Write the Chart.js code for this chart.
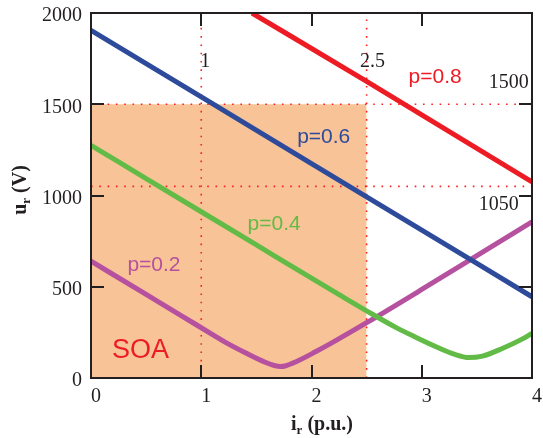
<!DOCTYPE html>
<html>
<head>
<meta charset="utf-8">
<script src="https://cdn.jsdelivr.net/npm/chart.js@4.4.1/dist/chart.umd.min.js"></script>
<style>
  html, body { margin: 0; padding: 0; background: #fff; }
  #wrap { width: 543px; height: 438px; }
</style>
</head>
<body>
<div id="wrap"><canvas id="graficaSOA" width="543" height="438"></canvas></div>
<script>
// curvas u_r (V) frente a i_r (p.u.) para cada p
const xP02 = [0, 0.5, 0.81, 1.11, 1.22, 1.4, 1.58, 1.67, 1.72, 1.76, 1.855, 2.04, 2.2, 2.5, 3, 3.5, 4];
const uP02 = [640, 458, 345, 235, 195, 138, 86, 67, 63, 66, 88, 145, 198, 303, 485, 670, 856];
const xP04 = [0, 0.5, 1, 1.5, 2, 2.25, 2.5, 2.76, 2.94, 3.12, 3.3, 3.425, 3.55, 3.73, 3.91, 4];
const uP04 = [1275, 1093, 911, 729, 547, 457, 368, 279, 225, 174, 129, 112, 120, 162, 213, 245];
const xP06 = [0, 1, 2, 3, 4];
const uP06 = [1905, 1540, 1175, 810, 445];
const xP08 = [1.46, 2.5, 4];
const uP08 = [2000, 1625, 1075];

// limites de la zona SOA
const limI = [1, 2.5];
const limU = [1050, 1500];

const xTicks = [0, 1, 2, 3, 4];
const yTicks = [0, 500, 1000, 1500, 2000];

const negro = '#231F20';
const serif = '"Liberation Serif", "Times New Roman", serif';
const sans = '"Liberation Sans", Arial, sans-serif';

function puntos(xs, ys) {
  return xs.map((x, i) => ({ x: x, y: ys[i] }));
}

function curva(label, xs, ys, color) {
  return {
    label: label,
    data: puntos(xs, ys),
    borderColor: color,
    borderWidth: 5,
    pointRadius: 0,
    cubicInterpolationMode: 'monotone',
    fill: false,
    order: 0
  };
}

function punteada(pts) {
  return {
    data: pts,
    borderColor: '#FF1F1F',
    borderWidth: 1.6,
    borderDash: [1.6, 6.7],
    borderCapStyle: 'butt',
    pointRadius: 0,
    tension: 0,
    fill: false,
    order: 1
  };
}

// textos sobre el grafico (coordenadas en datos)
const etiquetas = [
  { t: 'p=0.8', x: 2.88, y: 1616, font: '21px ' + sans, color: '#ED1C24', align: 'left' },
  { t: 'p=0.6', x: 1.87, y: 1287, font: '21px ' + sans, color: '#2E4B9B', align: 'left' },
  { t: 'p=0.4', x: 1.42, y: 810, font: '21px ' + sans, color: '#63BB47', align: 'left' },
  { t: 'p=0.2', x: 0.33, y: 586, font: '21px ' + sans, color: '#B5519F', align: 'left' },
  { t: 'SOA', x: 0.19, y: 108, font: '27px ' + sans, color: '#ED1C24', align: 'left' },
  { t: '1', x: 0.99, y: 1703, font: '20px ' + serif, color: negro, align: 'left' },
  { t: '2.5', x: 2.44, y: 1703, font: '20px ' + serif, color: negro, align: 'left' },
  { t: '1500', x: 3.97, y: 1588, font: '20px ' + serif, color: negro, align: 'right' },
  { t: '1050', x: 3.88, y: 920, font: '20px ' + serif, color: negro, align: 'right' }
];

function tituloEje(ctx, partes, cx, cy, angulo) {
  ctx.save();
  ctx.translate(cx, cy);
  ctx.rotate(angulo);
  let total = 0;
  partes.forEach(p => { ctx.font = p.font; total += ctx.measureText(p.t).width; });
  let x = -total / 2;
  ctx.textAlign = 'left';
  ctx.textBaseline = 'alphabetic';
  ctx.fillStyle = negro;
  partes.forEach(p => {
    ctx.font = p.font;
    ctx.fillText(p.t, x, p.dy);
    x += ctx.measureText(p.t).width;
  });
  ctx.restore();
}

const marcoYTextos = {
  id: 'marcoYTextos',
  afterDatasetsDraw(chart) {
    const ctx = chart.ctx;
    const a = chart.chartArea;
    const sx = chart.scales.x, sy = chart.scales.y;
    ctx.save();
    // marcas hacia dentro
    ctx.strokeStyle = negro;
    ctx.lineWidth = 2;
    ctx.beginPath();
    xTicks.forEach(v => {
      const px = Math.round(sx.getPixelForValue(v));
      ctx.moveTo(px, a.bottom); ctx.lineTo(px, a.bottom - 13);
      ctx.moveTo(px, a.top); ctx.lineTo(px, a.top + 13);
    });
    yTicks.forEach(v => {
      const py = Math.round(sy.getPixelForValue(v));
      ctx.moveTo(a.left, py); ctx.lineTo(a.left + 13, py);
      ctx.moveTo(a.right, py); ctx.lineTo(a.right - 13, py);
    });
    ctx.stroke();
    ctx.strokeRect(a.left, a.top, a.right - a.left, a.bottom - a.top);

    etiquetas.forEach(e => {
      ctx.font = e.font;
      ctx.fillStyle = e.color;
      ctx.textAlign = e.align;
      ctx.textBaseline = 'alphabetic';
      ctx.fillText(e.t, sx.getPixelForValue(e.x), sy.getPixelForValue(e.y));
    });
    ctx.restore();
  },
  afterDraw(chart) {
    const ctx = chart.ctx;
    const grande = 'bold 20px ' + serif;
    const chico = 'bold 13px ' + serif;
    tituloEje(ctx, [
      { t: 'i', font: grande, dy: 0 },
      { t: 'r', font: chico, dy: 4 },
      { t: ' (p.u.)', font: grande, dy: 0 }
    ], 322, 430, 0);
    tituloEje(ctx, [
      { t: 'u', font: grande, dy: 0 },
      { t: 'r', font: chico, dy: 4 },
      { t: ' (V)', font: grande, dy: 0 }
    ], 26, 190, -Math.PI / 2);
  }
};

function crearGraficoSOA() {
  const ctx = document.getElementById('graficaSOA').getContext('2d');
  return new Chart(ctx, {
    type: 'line',
    data: {
      datasets: [
        curva('p=0.8', xP08, uP08, '#ED1C24'),
        curva('p=0.6', xP06, uP06, '#2E4B9B'),
        curva('p=0.4', xP04, uP04, '#63BB47'),
        curva('p=0.2', xP02, uP02, '#B5519F'),
        punteada([{ x: 0, y: limU[1] }, { x: 4, y: limU[1] }]),
        punteada([{ x: 0, y: limU[0] }, { x: 4, y: limU[0] }]),
        punteada([{ x: limI[0], y: 0 }, { x: limI[0], y: 2000 }]),
        punteada([{ x: limI[1], y: 0 }, { x: limI[1], y: 2000 }]),
        {
          label: 'SOA',
          data: [{ x: 0, y: limU[1] }, { x: limI[1], y: limU[1] }],
          borderWidth: 0,
          borderColor: 'rgba(0,0,0,0)',
          backgroundColor: '#F8C396',
          pointRadius: 0,
          fill: 'origin',
          order: 2
        }
      ]
    },
    options: {
      responsive: false,
      animation: false,
      events: [],
      layout: { padding: { top: 13, right: 11, left: 0, bottom: 0 } },
      plugins: { legend: { display: false }, tooltip: { enabled: false } },
      scales: {
        x: {
          type: 'linear',
          min: 0, max: 4,
          afterBuildTicks: s => { s.ticks = xTicks.map(v => ({ value: v })); },
          afterFit: s => { s.height = 60; s.paddingLeft = 0; s.paddingRight = 0; },
          grid: { display: false, drawTicks: false },
          border: { display: false },
          ticks: { font: { family: serif, size: 20 }, color: negro, padding: 7, labelOffset: 5, maxRotation: 0,
                   callback: v => String(v) }
        },
        y: {
          min: 0, max: 2000,
          afterBuildTicks: s => { s.ticks = yTicks.map(v => ({ value: v })); },
          afterFit: s => { s.width = 91; s.paddingTop = 0; s.paddingBottom = 0; },
          grid: { display: false, drawTicks: false },
          border: { display: false },
          ticks: { font: { family: serif, size: 20 }, color: negro, padding: 9, labelOffset: 3,
                   callback: v => String(v) }
        }
      }
    },
    plugins: [marcoYTextos]
  });
}

crearGraficoSOA();
</script>
</body>
</html>
